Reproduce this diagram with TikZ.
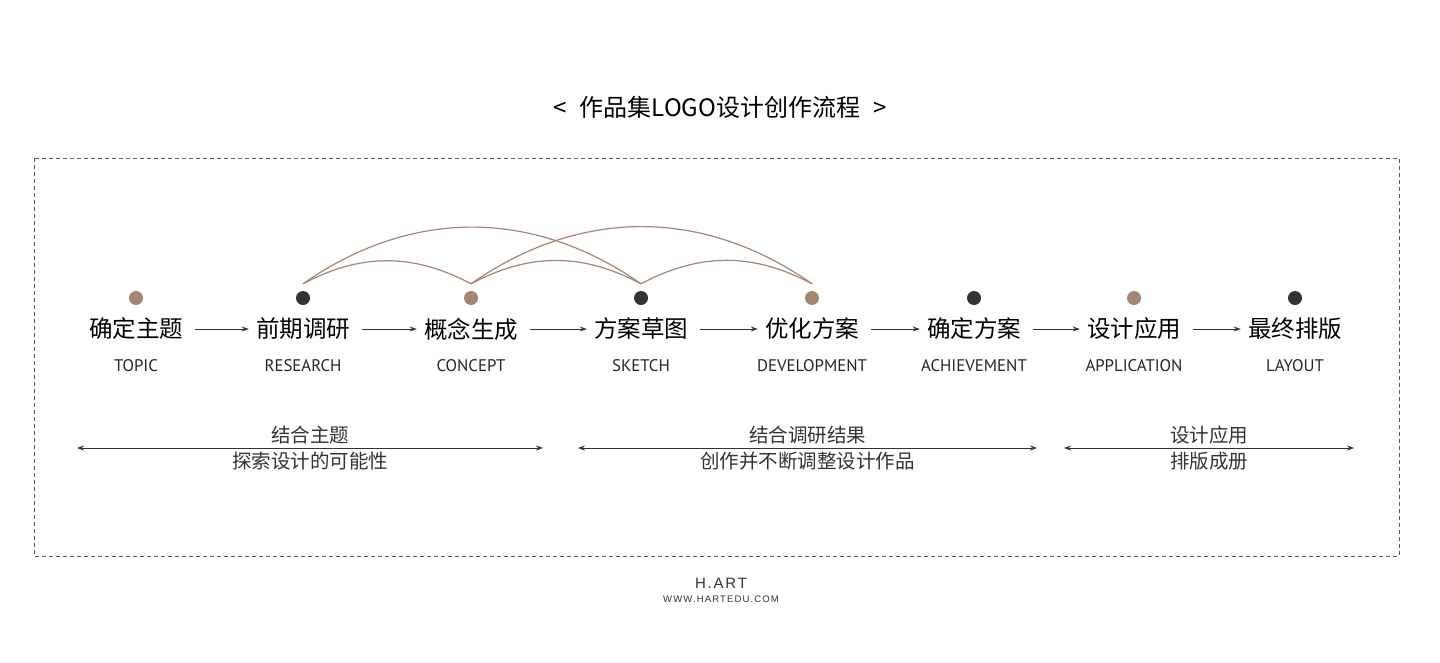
\documentclass[tikz,border=0pt]{standalone}
\usepackage{fontspec}
\setmainfont{Noto Sans CJK SC}
\newfontfamily\cjk{Noto Sans CJK SC}
\newfontfamily\enfont{PT Sans}
\newfontfamily\footfont[LetterSpace=12]{Liberation Sans}
\usetikzlibrary{positioning,arrows.meta}
\definecolor{hbrown}{RGB}{164,134,116}
\definecolor{hdark}{RGB}{51,51,51}
\definecolor{hframe}{RGB}{90,90,90}
\tikzset{
  dotnode/.style={circle,inner sep=0pt,minimum size=14pt},
  cnlabel/.style={font=\cjk\fontsize{23.5}{26}\selectfont,text=black,inner sep=0pt},
  enlabel/.style={font=\enfont\fontsize{16.8}{18}\selectfont,text=black!85,inner sep=0pt},
  flowarrow/.style={draw=hdark,line width=1pt,shorten <=12pt,shorten >=7pt,
    -{Stealth[length=7pt,width=5pt]}},
  arcline/.style={draw=hbrown,line width=1.2pt},
  spanline/.style={draw=hdark,line width=1pt,
    {Stealth[length=7pt,width=5pt]}-{Stealth[length=7pt,width=5pt]}},
  spanfont/.style={font=\cjk\fontsize{19.5}{22}\selectfont,text=hdark,inner sep=0pt},
}
% one stage: dot, chinese label, english label
\newcommand{\lstage}[5]{%
  \node[dotnode,fill=#3] (d#1) at (#2,298) {};
  \node[cnlabel] (c#1) at (#2,329) {#4};
  \node[enlabel] (e#1) at (#2,366) {#5};
  \coordinate (t#1) at ([yshift=7pt]d#1.north);}
% one span: double arrow with two lines of text
\newcommand{\lspan}[5]{%
  \coordinate (#1l) at (#2,448);
  \coordinate (#1r) at (#3,448);
  \draw[spanline] (#1l) -- (#1r);
  \node[spanfont] (#1a) at ({(#2+#3)/2},435) {#4};
  \node[spanfont] (#1b) at ({(#2+#3)/2},461) {#5};}

\begin{document}
\begin{tikzpicture}[x=1pt,y=-1pt]
  \fill[white] (0,0) rectangle (1440,662);
  \useasboundingbox (0,0) rectangle (1440,662);
  \node[font=\cjk\fontsize{24}{26}\selectfont] (title) at (720,107)
       {<\hspace{0.55em}作品集LOGO设计创作流程\hspace{0.55em}>};
  \draw[hframe,line width=1pt,dash pattern=on 4pt off 3pt]
       (34,158) rectangle (1399,556);
  \lstage{1}{136}{hbrown}{确定主题}{TOPIC}
  \lstage{2}{303}{hdark}{前期调研}{RESEARCH}
  \lstage{3}{471}{hbrown}{概念生成}{CONCEPT}
  \lstage{4}{641}{hdark}{方案草图}{SKETCH}
  \lstage{5}{812}{hbrown}{优化方案}{DEVELOPMENT}
  \lstage{6}{974}{hdark}{确定方案}{ACHIEVEMENT}
  \lstage{7}{1134}{hbrown}{设计应用}{APPLICATION}
  \lstage{8}{1295}{hdark}{最终排版}{LAYOUT}
  \foreach \a/\b in {1/2,2/3,3/4,4/5,5/6,6/7,7/8}
    \draw[flowarrow] (c\a.east) -- (c\b.west);
  % loops back and forth
  \draw[arcline] (t2) to[bend left=28] (t3);
  \draw[arcline] (t3) to[bend left=28] (t4);
  \draw[arcline] (t4) to[bend left=28] (t5);
  \draw[arcline] (t2) to[bend left=35] (t4);
  \draw[arcline] (t3) to[bend left=35] (t5);
  \lspan{s1}{77}{543}{结合主题}{探索设计的可能性}
  \lspan{s2}{578}{1037}{结合调研结果}{创作并不断调整设计作品}
  \lspan{s3}{1064}{1354}{设计应用}{排版成册}
  \node[font=\footfont\fontsize{15}{17}\selectfont,text=hdark] (brand) at (721,583) {H.ART};
  \node[font=\footfont\fontsize{9.5}{11}\selectfont,text=hdark] (site) at (721,599) {WWW.HARTEDU.COM};
\end{tikzpicture}
\end{document}
